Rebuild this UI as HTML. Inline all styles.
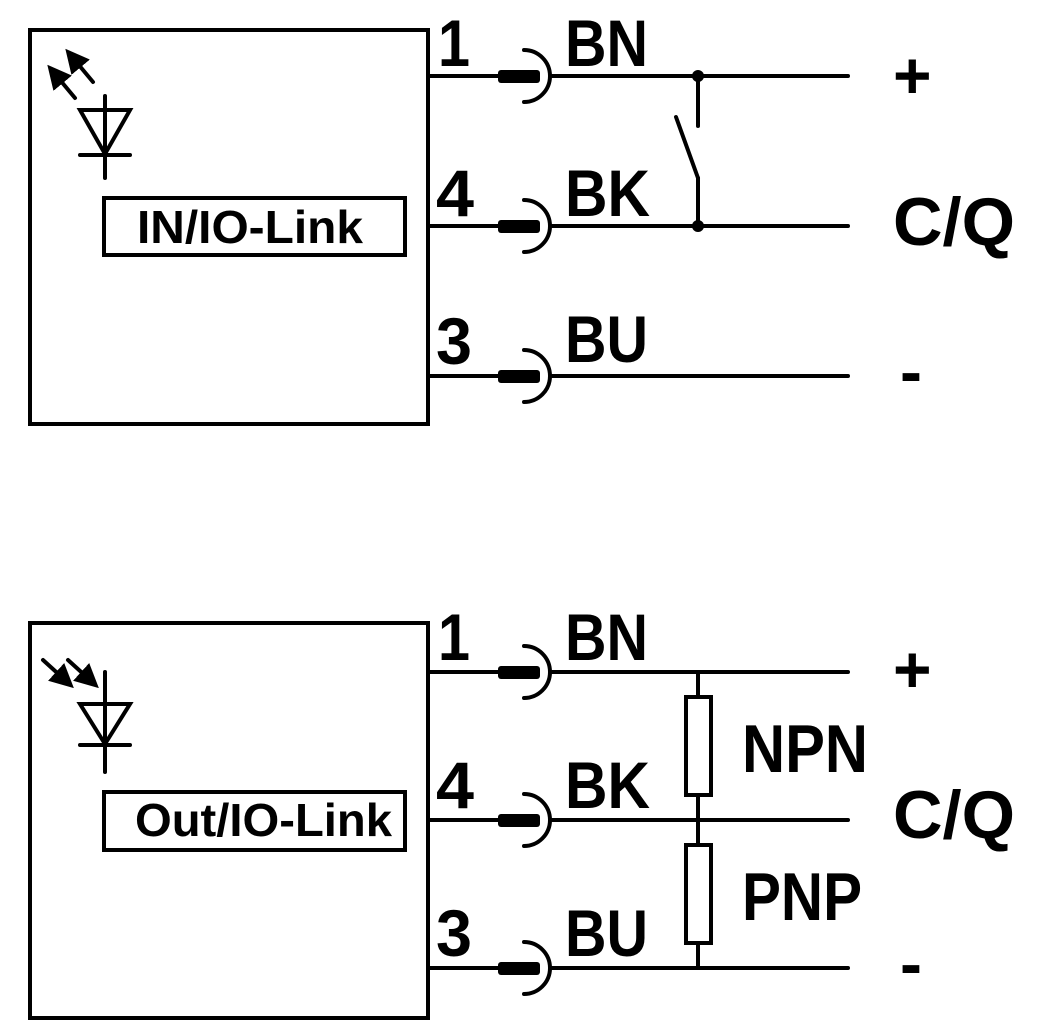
<!DOCTYPE html>
<html><head><meta charset="utf-8"><style>
html,body{margin:0;padding:0;background:#fff;}
svg{display:block;}
text{font-family:"Liberation Sans Narrow","Liberation Sans",sans-serif;font-weight:bold;fill:#000;}
</style></head><body>
<svg width="1056" height="1022" viewBox="0 0 1056 1022" xmlns="http://www.w3.org/2000/svg">
<defs>
<marker id="ah" markerWidth="6" markerHeight="6" refX="3" refY="3" orient="auto" markerUnits="strokeWidth">
<path d="M0,0 L6,3 L0,6 z" fill="#000"/></marker>
</defs>
<g stroke="#000" stroke-width="4" fill="none" stroke-linecap="round">
<rect x="30" y="30" width="398" height="394"/>
<rect x="104" y="198" width="301" height="57"/>
<line x1="105" y1="96" x2="105" y2="178"/>
<polygon points="80,110 130,110 105,154"/>
<line x1="80" y1="155" x2="130" y2="155"/>
<line x1="75" y1="98" x2="55" y2="74" marker-end="url(#ah)"/>
<line x1="93" y1="82" x2="73" y2="58" marker-end="url(#ah)"/>
<rect x="30" y="623" width="398" height="395"/>
<rect x="104" y="792" width="301" height="58"/>
<line x1="105" y1="672" x2="105" y2="772"/>
<polygon points="80,704 130,704 105,744"/>
<line x1="80" y1="745" x2="130" y2="745"/>
<line x1="43" y1="660" x2="65" y2="680" marker-end="url(#ah)"/>
<line x1="68" y1="660" x2="90" y2="680" marker-end="url(#ah)"/>
<line x1="428" y1="76" x2="500" y2="76"/><line x1="552" y1="76" x2="848" y2="76"/>
<line x1="428" y1="226" x2="500" y2="226"/><line x1="552" y1="226" x2="848" y2="226"/>
<line x1="428" y1="376" x2="500" y2="376"/><line x1="552" y1="376" x2="848" y2="376"/>
<line x1="428" y1="672" x2="500" y2="672"/><line x1="552" y1="672" x2="848" y2="672"/>
<line x1="428" y1="820" x2="500" y2="820"/><line x1="552" y1="820" x2="848" y2="820"/>
<line x1="428" y1="968" x2="500" y2="968"/><line x1="552" y1="968" x2="848" y2="968"/>
<path d="M524,50 A26,26 0 0 1 524,102"/>
<path d="M524,200 A26,26 0 0 1 524,252"/>
<path d="M524,350 A26,26 0 0 1 524,402"/>
<path d="M524,646 A26,26 0 0 1 524,698"/>
<path d="M524,794 A26,26 0 0 1 524,846"/>
<path d="M524,942 A26,26 0 0 1 524,994"/>
<line x1="698" y1="76" x2="698" y2="126"/>
<line x1="676" y1="117" x2="698" y2="178"/>
<line x1="698" y1="178" x2="698" y2="226"/>
<line x1="698" y1="672" x2="698" y2="968"/>
<rect x="686" y="697" width="25" height="98" fill="#fff"/>
<rect x="686" y="845" width="25" height="98" fill="#fff"/>
</g>
<g fill="#000">
<rect x="498" y="70" width="42" height="13" rx="3"/>
<rect x="498" y="220" width="42" height="13" rx="3"/>
<rect x="498" y="370" width="42" height="13" rx="3"/>
<rect x="498" y="666" width="42" height="13" rx="3"/>
<rect x="498" y="814" width="42" height="13" rx="3"/>
<rect x="498" y="962" width="42" height="13" rx="3"/>
<circle cx="698" cy="76" r="6"/>
<circle cx="698" cy="226" r="6"/>
</g>
<g font-size="66">
<text x="438" y="66" textLength="32" lengthAdjust="spacingAndGlyphs">1</text>
<text x="565" y="66" textLength="83" lengthAdjust="spacingAndGlyphs">BN</text>
<text x="436" y="216" textLength="38" lengthAdjust="spacingAndGlyphs">4</text>
<text x="565" y="216" textLength="85" lengthAdjust="spacingAndGlyphs">BK</text>
<text x="436" y="364" textLength="36" lengthAdjust="spacingAndGlyphs">3</text>
<text x="565" y="362" textLength="83" lengthAdjust="spacingAndGlyphs">BU</text>
<text x="438" y="660" textLength="32" lengthAdjust="spacingAndGlyphs">1</text>
<text x="565" y="660" textLength="83" lengthAdjust="spacingAndGlyphs">BN</text>
<text x="436" y="808" textLength="38" lengthAdjust="spacingAndGlyphs">4</text>
<text x="565" y="808" textLength="85" lengthAdjust="spacingAndGlyphs">BK</text>
<text x="436" y="956" textLength="36" lengthAdjust="spacingAndGlyphs">3</text>
<text x="565" y="956" textLength="83" lengthAdjust="spacingAndGlyphs">BU</text>
</g>
<g font-size="68">
<text x="893" y="245" textLength="122" lengthAdjust="spacingAndGlyphs">C/Q</text>
<text x="893" y="838" textLength="122" lengthAdjust="spacingAndGlyphs">C/Q</text>
<text x="742" y="772" textLength="126" lengthAdjust="spacingAndGlyphs">NPN</text>
<text x="742" y="920" textLength="120" lengthAdjust="spacingAndGlyphs">PNP</text>
<text x="893" y="98" font-size="66">+</text>
<text x="893" y="692" font-size="66">+</text>
<text x="900" y="394" font-size="66">-</text>
<text x="900" y="986" font-size="66">-</text>
</g>
<g font-size="46">
<text x="137" y="243" textLength="226" lengthAdjust="spacingAndGlyphs">IN/IO-Link</text>
<text x="135" y="836" textLength="257" lengthAdjust="spacingAndGlyphs">Out/IO-Link</text>
</g>
</svg>
</body></html>
